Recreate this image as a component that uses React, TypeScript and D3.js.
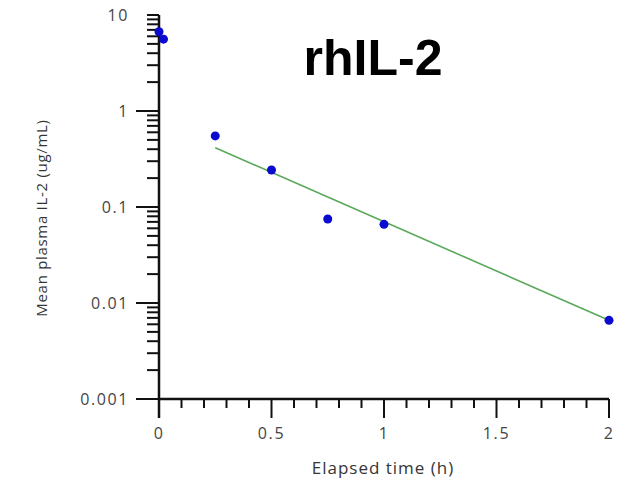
import React from "react";
import * as d3 from "d3";

// Observed mean plasma concentrations
const times: number[] = [0, 0.02, 0.25, 0.5, 0.75, 1, 2];
const concentrations: number[] = [6.7, 5.6, 0.55, 0.243, 0.075, 0.066, 0.0066];

// Log-linear elimination fit
const fitTimes: number[] = [0.25, 2];
const fitConcentrations: number[] = [0.415, 0.0066];

const xMajorTicks: number[] = [0, 0.5, 1, 1.5, 2];
const xTickLabels: string[] = ["0", "0.5", "1", "1.5", "2"];
const yDecades: number[] = [0.001, 0.01, 0.1, 1, 10];
const yTickLabels: string[] = ["0.001", "0.01", "0.1", "1", "10"];

const W = 631;
const H = 482;

export default function App() {
  const x = d3.scaleLinear().domain([0, 2]).range([159, 609]);
  const y = d3.scaleLog().domain([0.001, 10]).range([399, 15]);

  const xMinor = d3.range(0, 21).map((i) => i / 10).filter((v) => Math.round(v * 10) % 5 !== 0);
  const yMinor: number[] = [];
  yDecades.slice(0, -1).forEach((d) => {
    for (let k = 2; k <= 9; k++) yMinor.push(d * k);
  });

  const line = d3
    .line<number>()
    .x((_, i) => x(fitTimes[i]))
    .y((v) => y(v));

  const tickFont = "'Open Sans', 'DejaVu Sans', sans-serif";

  return (
    <svg
      width={W}
      height={H}
      style={{ position: "absolute", left: 0, top: 0, background: "#fff" }}
    >
      {/* title */}
      <text
        x={373}
        y={75}
        textAnchor="middle"
        fontFamily="'Liberation Sans', Arial, sans-serif"
        fontWeight="bold"
        fontSize={50}
        fill="#000"
      >
        rhIL-2
      </text>

      {/* y axis */}
      <line x1={x(0)} x2={x(0)} y1={y(10)} y2={418} stroke="#111" strokeWidth={2.5} />
      {yDecades.map((d, i) => (
        <g key={"yd" + i}>
          <line
            x1={x(0) - (i === yDecades.length - 1 ? 12 : 23)}
            x2={x(0)}
            y1={y(d)}
            y2={y(d)}
            stroke="#111"
            strokeWidth={2}
          />
          <text
            x={129}
            y={y(d)}
            dy="0.35em"
            textAnchor="end"
            fontFamily={tickFont}
            fontSize={16}
            fontWeight={500}
            letterSpacing={1.6}
            fill="#454545"
          >
            {yTickLabels[i]}
          </text>
        </g>
      ))}
      {yMinor.map((v, i) => (
        <line
          key={"ym" + i}
          x1={x(0) - 12}
          x2={x(0)}
          y1={y(v)}
          y2={y(v)}
          stroke="#111"
          strokeWidth={2}
        />
      ))}

      {/* x axis */}
      <line x1={x(0)} x2={x(2)} y1={y(0.001)} y2={y(0.001)} stroke="#111" strokeWidth={2.5} />
      {xMajorTicks.map((t, i) => (
        <g key={"xt" + i}>
          <line x1={x(t)} x2={x(t)} y1={y(0.001)} y2={418} stroke="#111" strokeWidth={2} />
          <text
            x={x(t)}
            y={433}
            dy="0.35em"
            textAnchor="middle"
            fontFamily={tickFont}
            fontSize={16}
            fontWeight={500}
            letterSpacing={1.6}
            fill="#454545"
          >
            {xTickLabels[i]}
          </text>
        </g>
      ))}
      {xMinor.map((t, i) => (
        <line
          key={"xm" + i}
          x1={x(t)}
          x2={x(t)}
          y1={y(0.001)}
          y2={408}
          stroke="#111"
          strokeWidth={2}
        />
      ))}

      {/* axis titles */}
      <text
        x={383}
        y={468}
        dy="0.35em"
        textAnchor="middle"
        fontFamily={tickFont}
        fontSize={17}
        fontWeight={500}
        letterSpacing={1}
        fill="#353535"
      >
        Elapsed time (h)
      </text>
      <text
        transform={`translate(42,218) rotate(-90)`}
        textAnchor="middle"
        dy="0.35em"
        fontFamily={tickFont}
        fontSize={15}
        fontWeight={500}
        letterSpacing={0.7}
        fill="#353535"
      >
        Mean plasma IL-2 (ug/mL)
      </text>

      {/* fit line */}
      <path d={line(fitConcentrations) || ""} fill="none" stroke="#5aa85a" strokeWidth={1.6} />

      {/* observations */}
      {times.map((t, i) => (
        <circle key={"p" + i} cx={x(t)} cy={y(concentrations[i])} r={4.5} fill="#0a0ad0" />
      ))}
    </svg>
  );
}
